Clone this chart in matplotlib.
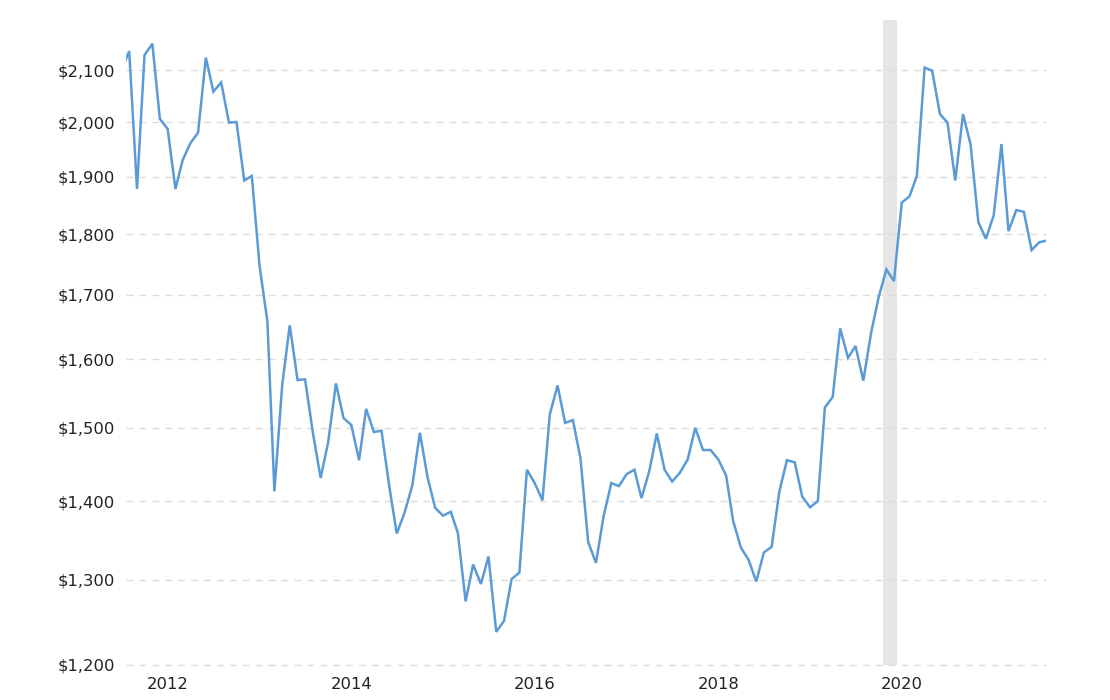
import numpy as np
import pandas as pd
import matplotlib
matplotlib.use("Agg")
import matplotlib.pyplot as plt
import matplotlib.ticker as mticker

# monthly price (Jul 2011 .. Aug 2021)
months = pd.date_range("2011-07-01", "2021-08-01", freq="MS")
price = [
    2100, 2138, 1878, 2130, 2153, 2006, 1987, 1878, 1930, 1961, 1980, 2125,
    2058, 2076, 1999, 2000, 1893, 1901, 1746, 1658, 1413, 1562, 1652, 1569,
    1570, 1493, 1431, 1480, 1564, 1514, 1504, 1455, 1527, 1494, 1496, 1420,
    1358, 1385, 1421, 1493, 1431, 1391, 1381, 1386, 1359, 1274, 1319, 1295,
    1329, 1238, 1251, 1301, 1309, 1442, 1424, 1401, 1519, 1561, 1507, 1511,
    1458, 1347, 1321, 1380, 1424, 1420, 1436, 1442, 1404, 1440, 1492, 1442,
    1426, 1438, 1456, 1500, 1469, 1469, 1456, 1434, 1374, 1340, 1325, 1298,
    1334, 1341, 1413, 1455, 1452, 1406, 1392, 1400, 1529, 1544, 1647, 1602,
    1620, 1568, 1640, 1696, 1741, 1722, 1854, 1865, 1901, 2105, 2099, 2015,
    1999, 1893, 2015, 1958, 1820, 1792, 1832, 1959, 1805, 1841, 1838, 1773,
    1786, 1789,
]
y_ticks = [1200, 1300, 1400, 1500, 1600, 1700, 1800, 1900, 2000, 2100]
x_years = [2012, 2014, 2016, 2018, 2020]
shade = ("2019-10-17", "2019-12-12")

line_color = "#5b9bd5"
text_color = "#222222"

fig = plt.figure(figsize=(11.1, 7), dpi=100)
ax = fig.add_axes([125.7 / 1110, 1 - 665 / 700, 920 / 1110, 645 / 700])

ax.axvspan(pd.Timestamp(shade[0]), pd.Timestamp(shade[1]),
           color="#e6e6e6", lw=0, zorder=0)
ax.plot(months, price, color=line_color, lw=1.8, zorder=3,
        solid_joinstyle="miter")

ax.set_yscale("log")
ax.set_ylim(1200, 2201.5)
ax.set_xlim(pd.Timestamp("2011-07-18"), pd.Timestamp("2021-07-27"))

ax.yaxis.set_major_locator(mticker.FixedLocator(y_ticks))
ax.yaxis.set_minor_locator(mticker.NullLocator())
ax.yaxis.set_major_formatter(mticker.FuncFormatter(lambda v, p: "${:,.0f}".format(v)))
ax.yaxis.set_minor_formatter(mticker.NullFormatter())

ax.set_xticks([pd.Timestamp(f"{y}-01-01") for y in x_years])
ax.set_xticklabels([str(y) for y in x_years])

ax.grid(axis="y", color="#dcdcdc", lw=1, linestyle=(0, (5, 4.3)), zorder=1)
ax.grid(axis="x", visible=False)
for gl in ax.get_ygridlines():
    gl.set_clip_on(False)
for s in ax.spines.values():
    s.set_visible(False)
ax.tick_params(axis="both", length=0, labelsize=11.8, colors=text_color)
ax.tick_params(axis="y", pad=7.7)
ax.tick_params(axis="x", pad=8.4)

fig.savefig("out.png", dpi=100, facecolor="white")
